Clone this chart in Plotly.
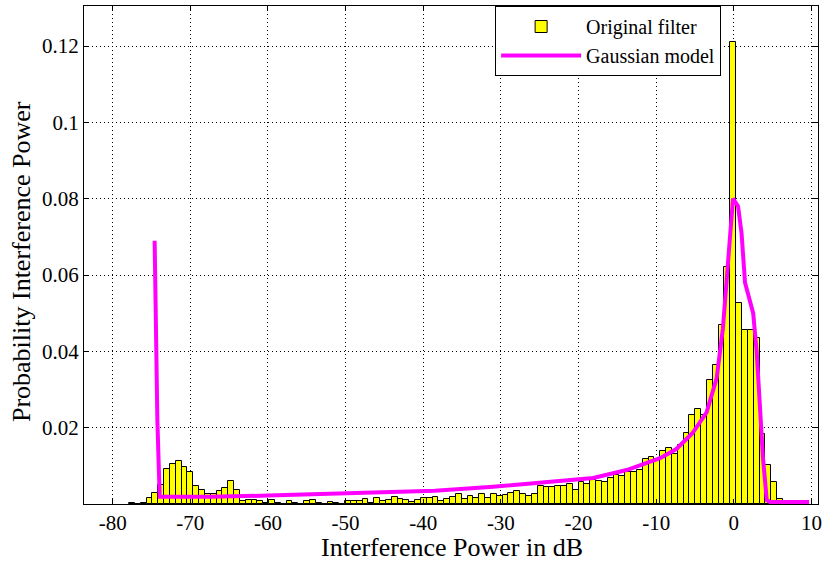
import plotly.graph_objects as go

# histogram bins (dB), first left edge and width
BIN_START = -77.9
BIN_WIDTH = 0.752

# bar heights, one per bin from BIN_START
bar_heights = [
    0.0003, 0.0, 0.0003, 0.0015, 0.003, 0.005, 0.0092, 0.0105, 0.0114, 0.0096,
    0.0084, 0.0048, 0.0037, 0.0027, 0.0027, 0.0034, 0.0043, 0.006, 0.0038, 0.0007,
    0.001, 0.001, 0.0007, 0.0003, 0.001, 0.0003, 0.0001, 0.0007, 0.0003, 0.0001,
    0.0007, 0.001, 0.0003, 0.0001, 0.0006, 0.0003, 0.0001, 0.0009, 0.0009, 0.0009,
    0.0013, 0.0003, 0.0015, 0.0009, 0.0011, 0.0018, 0.0014, 0.0011, 0.0005, 0.0011,
    0.0015, 0.0015, 0.0018, 0.0009, 0.0014, 0.0018, 0.0026, 0.0014, 0.0021, 0.0017,
    0.0026, 0.0017, 0.0026, 0.0021, 0.0024, 0.003, 0.0033, 0.0026, 0.002, 0.0026,
    0.0047, 0.0045, 0.0044, 0.0046, 0.0046, 0.0052, 0.0037, 0.0057, 0.0052, 0.0063,
    0.0061, 0.0058, 0.0068, 0.0077, 0.0074, 0.0083, 0.0085, 0.0089, 0.0118, 0.0122,
    0.0115, 0.014, 0.0148, 0.0131, 0.0155, 0.0187, 0.0232, 0.0249, 0.0233, 0.0324,
    0.0365, 0.047, 0.0622, 0.1211, 0.0527, 0.0457, 0.0457, 0.0436, 0.0184, 0.0102,
    0.0057, 0.0012,
]
bar_centers = [BIN_START + BIN_WIDTH * (i + 0.5) for i in range(len(bar_heights))]

# Gaussian model curve
model_x = [-74.6, -74.45, -74.25, -73.95, -67.5, -60, -52.7, -45, -38.5, -31,
           -24.3, -21.1, -18.1, -13.8, -9.5, -7.4, -5.3, -3.5, -2.2, -1.4,
           -0.76, -0.1, 0.55, 1.0, 1.45, 2.1, 2.5, 2.95, 3.4, 3.75,
           4.25, 4.7, 9.7]
model_y = [0.069, 0.049, 0.022, 0.0019, 0.0019, 0.0022, 0.0026, 0.0031, 0.0035, 0.0045,
           0.0056, 0.0062, 0.0068, 0.0089, 0.012, 0.0144, 0.0186, 0.024, 0.033, 0.046,
           0.063, 0.080, 0.078, 0.071, 0.058, 0.053, 0.050, 0.040, 0.025, 0.0124,
           0.001, 0.0005, 0.0005]

x_ticks = [-80, -70, -60, -50, -40, -30, -20, -10, 0, 10]
x_tick_text = ["-80", "-70", "-60", "-50", "-40", "-30", "-20", "-10", "0", "10"]
y_ticks = [0.02, 0.04, 0.06, 0.08, 0.1, 0.12]
y_tick_text = ["0.02", "0.04", "0.06", "0.08", "0.1", "0.12"]

FONT = "Liberation Serif"

fig = go.Figure()

fig.add_trace(go.Bar(
    x=bar_centers,
    y=bar_heights,
    width=BIN_WIDTH,
    name="Original filter",
    marker=dict(color="#ffff00", line=dict(color="black", width=1)),
))

fig.add_trace(go.Scatter(
    x=model_x,
    y=model_y,
    mode="lines",
    name="Gaussian model",
    line=dict(color="#ff00ff", width=4),
))

axis_common = dict(
    showline=True, linecolor="black", linewidth=1, mirror="ticks",
    ticks="inside", ticklen=5, tickcolor="black",
    showgrid=True, gridcolor="black", gridwidth=1, griddash="1px,3px",
    zeroline=False, automargin=False,
    tickfont=dict(family=FONT, size=21, color="black"),
)

fig.update_xaxes(range=[-83.7, 10.85], tickvals=x_ticks, ticktext=x_tick_text, **axis_common)
fig.update_yaxes(range=[0, 0.1305], tickvals=y_ticks, ticktext=y_tick_text, **axis_common)

# axis titles placed like the original figure
fig.add_annotation(
    text="Interference Power in dB", xref="paper", yref="paper",
    x=0.501, y=-0.087, xanchor="center", yanchor="middle", showarrow=False,
    font=dict(family=FONT, size=26, color="black"),
)
fig.add_annotation(
    text="Probability Interference Power", xref="paper", yref="paper",
    x=-0.085, y=0.487, xanchor="center", yanchor="middle", showarrow=False,
    textangle=-90, font=dict(family=FONT, size=26, color="black"),
)

fig.update_layout(
    width=823, height=564,
    margin=dict(l=84, r=5, t=6, b=60),
    paper_bgcolor="white", plot_bgcolor="white",
    bargap=0,
    showlegend=True,
    legend=dict(
        x=0.868, xanchor="right", y=1.0, yanchor="top",
        bgcolor="white", bordercolor="black", borderwidth=1,
        font=dict(family=FONT, size=20, color="black"),
        tracegroupgap=0, itemwidth=80,
    ),
)

# drop the default page margin so the figure sits at the window's corner
fig.write_html(
    "out.html",
    config={"displayModeBar": False},
    post_script="document.body.style.margin = '0';",
)
